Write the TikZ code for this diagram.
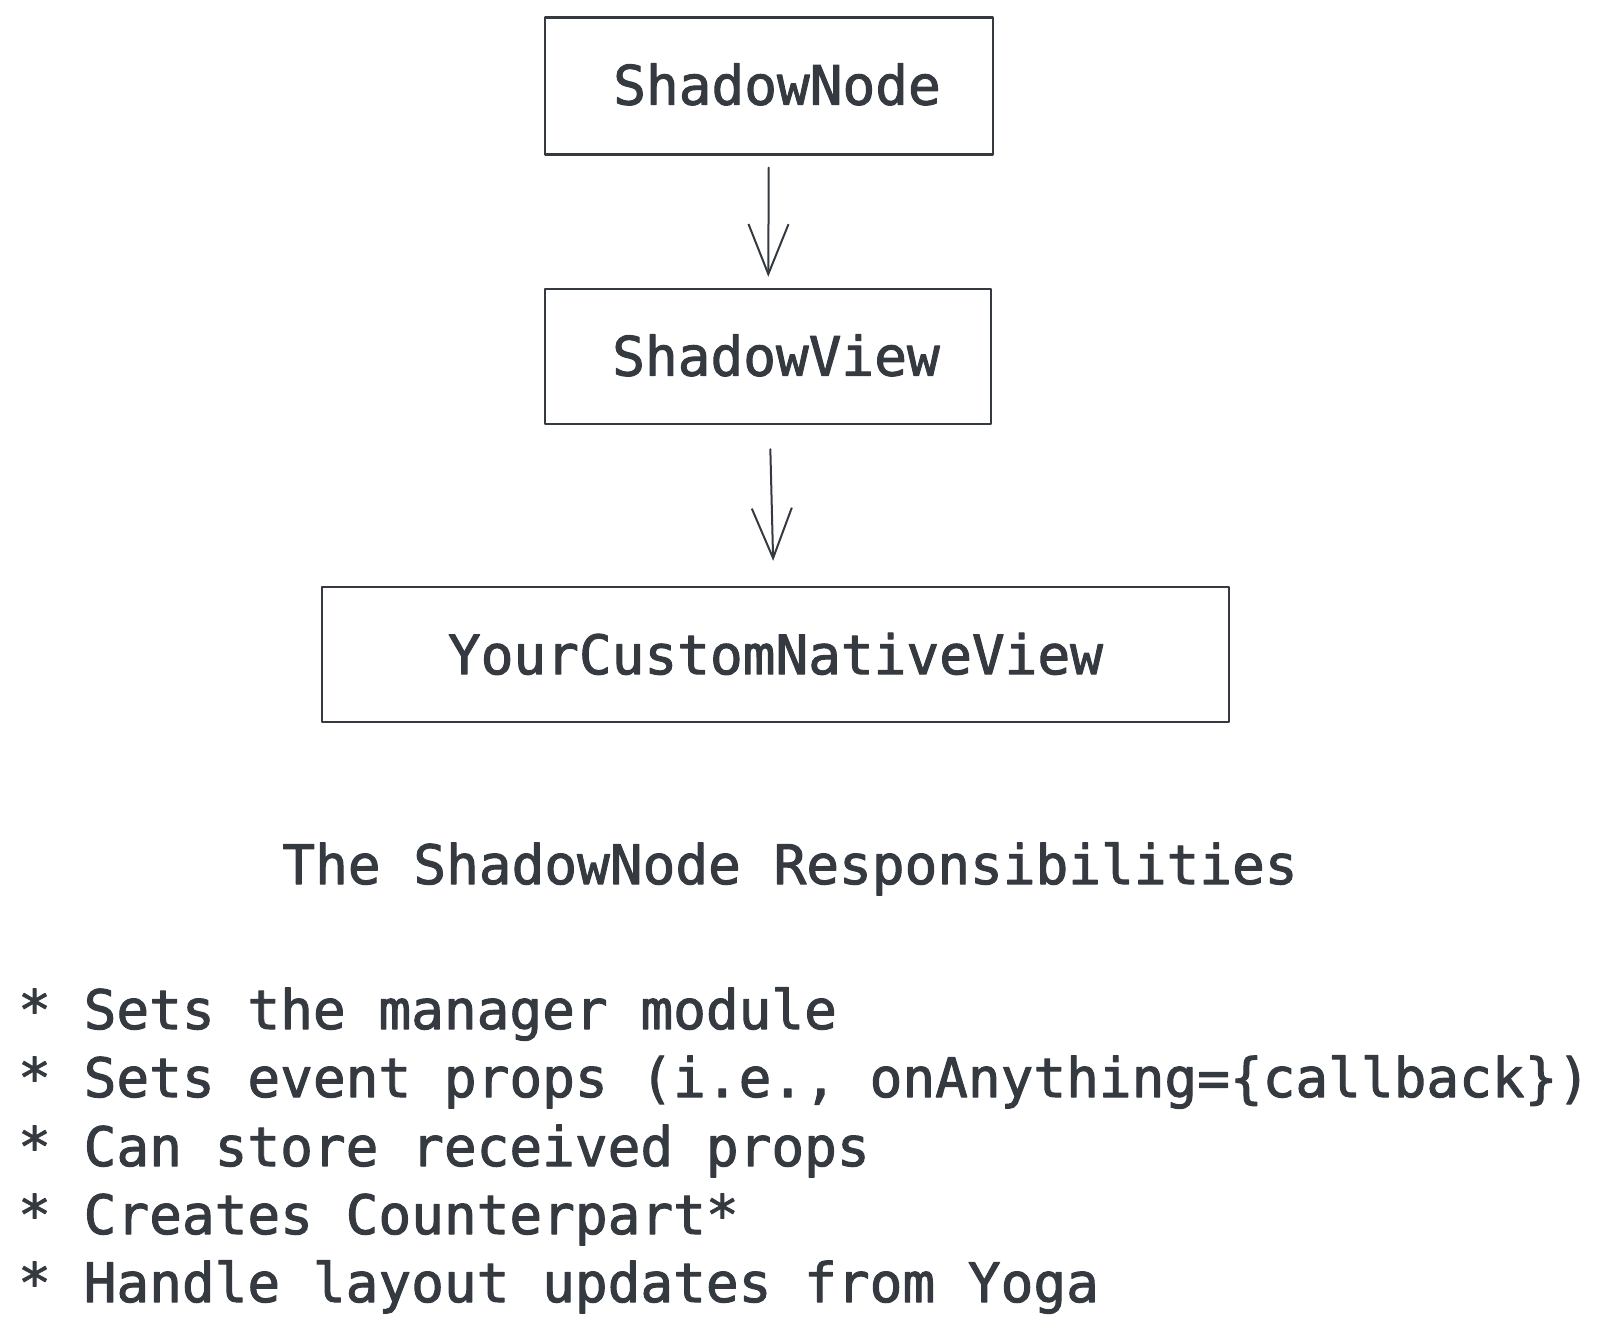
\documentclass[tikz,border=0pt]{standalone}
\usepackage{fontspec}
\newfontfamily\sketchmono{DejaVu Sans Mono}[FakeBold=1.8]
\usetikzlibrary{arrows.meta, positioning}
\definecolor{ink}{HTML}{343A40}

\newcommand{\diagfont}{\sketchmono\fontsize{54.4}{68.3}\selectfont}

\begin{document}
\begin{tikzpicture}[x=1pt, y=-1pt, line cap=round, line join=round]
	%======================
	% STYLES
	%======================
	\tikzset{
		box/.style={draw=ink, line width=2.4pt, inner sep=0pt, text=ink, font=\diagfont},
		flow/.style={draw=ink, line width=2pt, -{Straight Barb[length=50pt, width=40pt]}},
		txt/.style={text=ink, inner sep=0pt, anchor=base west, font=\diagfont}
	}
	
	\useasboundingbox (0,0) rectangle (1616,1335);
	
	% the three layers
	\node[box, minimum width=448pt, minimum height=137pt] (sn) at (769,86) {\hspace*{16pt}\raisebox{4pt}{ShadowNode}};
	\node[box, minimum width=446pt, minimum height=135pt] (sv) at (768,356.5) {\hspace*{16pt}\raisebox{3pt}{ShadowView}};
	\node[box, minimum width=907pt, minimum height=135pt] (cv) at (775.5,654.5) {\raisebox{2pt}{YourCustomNativeView}};
	
	\draw[flow, shorten <=12pt, shorten >=11pt] (sn) -- (sv);
	\draw[flow, shorten <=24pt, shorten >=25pt] (sv) -- (cv);
	
	% responsibilities
	\node[txt, anchor=base] (title) at (790,884) {The ShadowNode Responsibilities};
	
	\node[txt] (r1) at (18,1029) {* Sets the manager module};
	\node[txt] (r2) at (18,1097) {* Sets event props (i.e., onAnything=\{callback\})};
	\node[txt] (r3) at (18,1166) {* Can store received props};
	\node[txt] (r4) at (18,1234) {* Creates Counterpart*};
	\node[txt] (r5) at (18,1302) {* Handle layout updates from Yoga};
\end{tikzpicture}
\end{document}
